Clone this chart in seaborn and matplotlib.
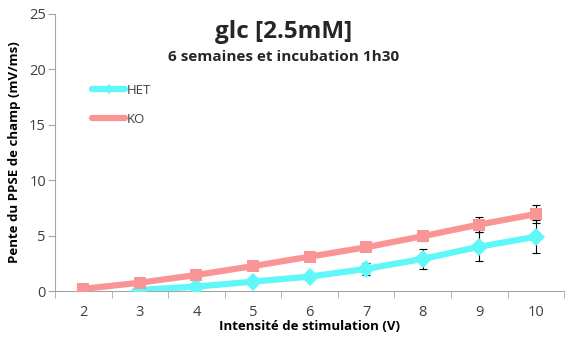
import matplotlib
matplotlib.use("Agg")
import matplotlib.pyplot as plt
import seaborn as sns
import pandas as pd
import numpy as np
from matplotlib.lines import Line2D

x_het = [3, 4, 5, 6, 7, 8, 9, 10]
het = [0.1, 0.4, 0.85, 1.3, 2.0, 2.9, 4.0, 4.9]
het_err = [0.1, 0.15, 0.25, 0.3, 0.55, 0.9, 1.3, 1.5]
x_ko = [2, 3, 4, 5, 6, 7, 8, 9, 10]
ko = [0.2, 0.75, 1.45, 2.25, 3.1, 3.95, 4.95, 6.0, 6.95]
ko_err = [0.05, 0.1, 0.15, 0.2, 0.25, 0.3, 0.4, 0.65, 0.85]
xticks = [2, 3, 4, 5, 6, 7, 8, 9, 10]

sns.set_style("white")
plt.rcParams['font.family'] = ['Open Sans', 'DejaVu Sans']

c_het = "#5FF7F7"
c_ko = "#F99595"

df = pd.concat([
    pd.DataFrame({"x": x_het, "y": het, "g": "HET"}),
    pd.DataFrame({"x": x_ko, "y": ko, "g": "KO"}),
])

fig = plt.figure(figsize=(5.67, 3.4), dpi=100)
ax = fig.add_axes([0.097, 0.144, 0.898, 0.815])

ax.errorbar(x_het, het, yerr=het_err, fmt="none", ecolor="black", elinewidth=0.8, capsize=3, capthick=0.8, zorder=1)
ax.errorbar(x_ko, ko, yerr=ko_err, fmt="none", ecolor="black", elinewidth=0.8, capsize=3, capthick=0.8, zorder=1)

sns.lineplot(data=df, x="x", y="y", hue="g", style="g", palette={"HET": c_het, "KO": c_ko},
             markers={"HET": "D", "KO": "s"}, dashes=False, linewidth=4.5, markersize=9,
             markeredgewidth=0, ax=ax, legend=False, zorder=3)

ax.set_xlim(1.5, 10.5)
ax.set_ylim(0, 25)
ax.set_xticks(xticks)
ax.set_xticklabels([str(v) for v in xticks])
ax.set_xticks(np.arange(1.5, 10.6, 1), minor=True)
ax.set_yticks([0, 5, 10, 15, 20, 25])
ax.tick_params(axis="x", which="major", length=0, labelsize=10.5, colors="#404040", pad=10)
ax.tick_params(axis="x", which="minor", length=5, color="#A6A6A6", direction="out", bottom=True)
ax.tick_params(axis="y", length=5, width=0.8, color="#A6A6A6", direction="out", left=True,
               labelsize=10.5, labelcolor="#404040", pad=1.5)

for s in ["top", "right"]:
    ax.spines[s].set_visible(False)
for s in ["left", "bottom"]:
    ax.spines[s].set_color("#A6A6A6")
    ax.spines[s].set_linewidth(0.8)

ax.set_xlabel("Intensité de stimulation (V)", fontsize=9.5, fontweight="bold", color="black", labelpad=0)
ax.set_ylabel("Pente du PPSE de champ (mV/ms)", fontsize=9.5, fontweight="bold", color="black", labelpad=6)

fig.text(0.5, 0.905, "glc [2.5mM]", fontsize=17.5, fontweight="bold", ha="center", va="center")
fig.text(0.5, 0.832, "6 semaines et incubation 1h30", fontsize=11, fontweight="bold", ha="center", va="center")

h1 = Line2D([], [], color=c_het, lw=4.5, marker="D", markersize=5, markeredgewidth=0)
h2 = Line2D([], [], color=c_ko, lw=4.5, marker="s", markersize=5, markeredgewidth=0)
ax.legend([h1, h2], ["HET", "KO"], loc="upper left", bbox_to_anchor=(0.05, 0.79), frameon=False,
          fontsize=9.5, handlelength=2.5, handletextpad=0.1, labelspacing=1.2, labelcolor="#404040")

fig.savefig("out.png", dpi=100)
